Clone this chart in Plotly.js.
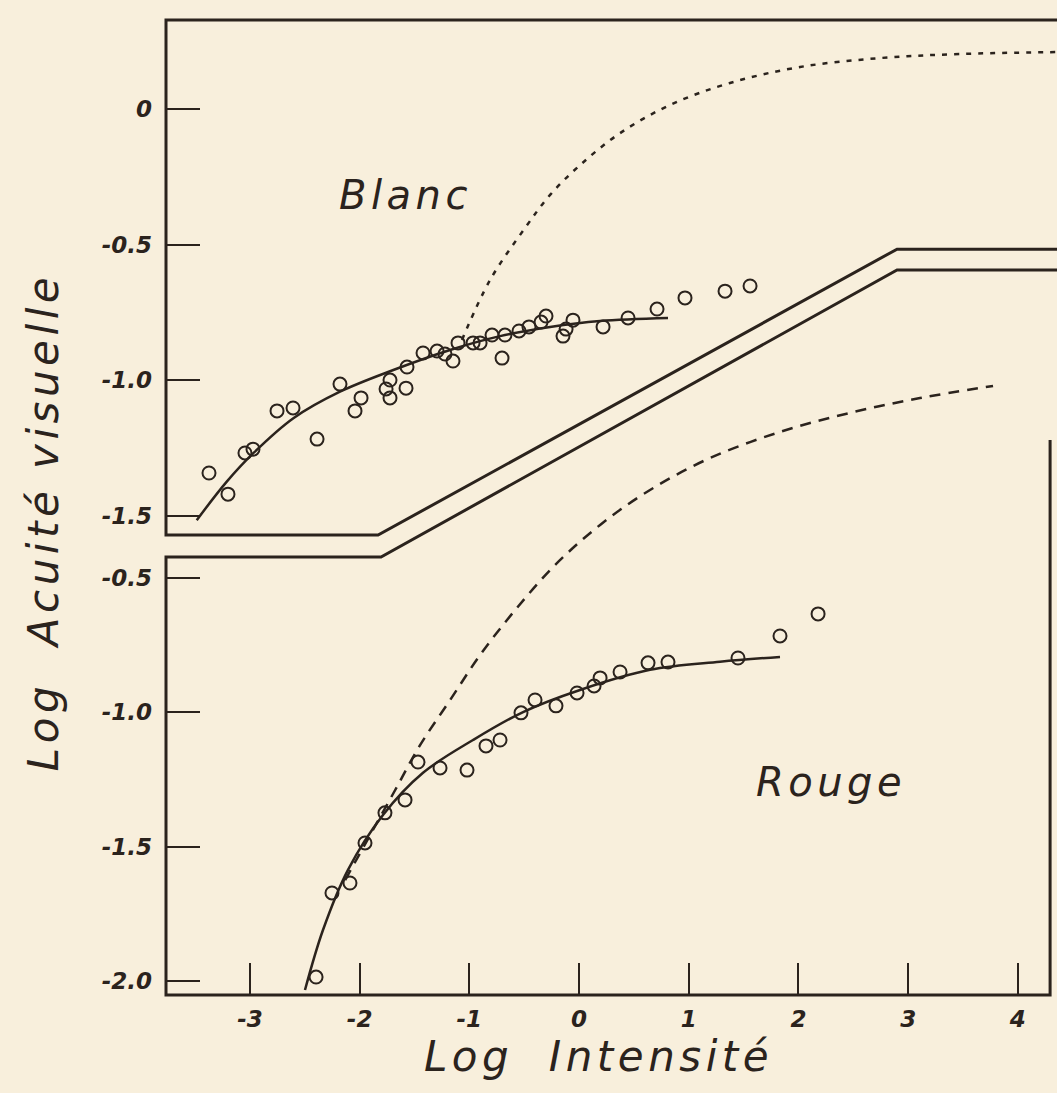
<!DOCTYPE html>
<html>
<head>
<meta charset="utf-8">
<script src="https://cdn.plot.ly/plotly-3.0.1.min.js"></script>
<style>
  html, body { margin: 0; padding: 0; background: #f8efdc; }
  #chart { width: 1057px; height: 1093px; }
  .xtitle, .ytitle, .y2title, .annotation-text { letter-spacing: 4.5px; }
</style>
</head>
<body>
<div id="chart"></div>
<script>
// ---------- Data ----------
// Blanc (white light) – top panel
const blancX = [-3.373, -3.200, -3.045, -2.972, -2.753, -2.607, -2.388, -2.179, -2.042, -1.987,
                -1.759, -1.723, -1.723, -1.577, -1.568, -1.422, -1.294, -1.222, -1.149, -1.103,
                -0.966, -0.902, -0.793, -0.675, -0.702, -0.547, -0.456, -0.346, -0.301, -0.146,
                -0.118, -0.055, 0.219, 0.447, 0.711, 0.966, 1.331, 1.559];
const blancY = [-1.343, -1.421, -1.269, -1.255, -1.114, -1.103, -1.218, -1.015, -1.114, -1.066,
                -1.033, -1.000, -1.066, -1.030, -0.952, -0.900, -0.893, -0.904, -0.930, -0.863,
                -0.863, -0.863, -0.834, -0.834, -0.919, -0.819, -0.804, -0.786, -0.764, -0.838,
                -0.812, -0.779, -0.804, -0.771, -0.738, -0.697, -0.672, -0.653];
const blancFitX = [-3.485, -3.211, -2.969, -2.604, -2.179, -1.693, -1.176, -0.720, -0.264, 0.191, 0.811];
const blancFitY = [-1.517, -1.375, -1.270, -1.141, -1.043, -0.963, -0.889, -0.838, -0.804, -0.782, -0.771];
const blancDotX = [-1.067, -0.811, -0.492, -0.264, 0.009, 0.374, 0.830, 1.376, 2.015, 2.744, 3.473, 4.357];
const blancDotY = [-0.852, -0.631, -0.439, -0.317, -0.207, -0.089, 0.015, 0.096, 0.155, 0.188, 0.203, 0.210];

// Rouge (red light) – bottom panel
const rougeX = [-2.397, -2.252, -2.088, -1.951, -1.769, -1.586, -1.468, -1.267, -1.021, -0.848,
                -0.720, -0.529, -0.401, -0.210, -0.018, 0.137, 0.192, 0.374, 0.629, 0.811,
                1.449, 1.832, 2.179];
const rougeY = [-1.985, -1.672, -1.635, -1.486, -1.374, -1.326, -1.185, -1.207, -1.215, -1.125,
                -1.103, -1.002, -0.954, -0.976, -0.928, -0.902, -0.872, -0.850, -0.816, -0.813,
                -0.798, -0.716, -0.634];
const rougeFitX = [-2.498, -2.334, -2.106, -1.787, -1.422, -0.966, -0.510, 0.009, 0.647, 1.285, 1.832];
const rougeFitY = [-2.033, -1.810, -1.586, -1.382, -1.225, -1.103, -0.999, -0.917, -0.842, -0.812, -0.794];
const rougeDashX = [-2.132, -1.905, -1.677, -1.449, -1.176, -0.902, -0.583, -0.218, 0.192, 0.647, 1.194, 1.832, 2.470, 3.108, 3.774];
const rougeDashY = [-1.624, -1.457, -1.290, -1.122, -0.955, -0.787, -0.620, -0.452, -0.303, -0.173, -0.054, 0.043, 0.114, 0.169, 0.214];

// Axis ticks
const xTickVals = [-3, -2, -1, 0, 1, 2, 3, 4];
const xTickText = ['-3', '-2', '-1', '0', '1', '2', '3', '4'];
const yTopTickVals = [0, -0.5, -1.0, -1.5];
const yTopTickText = ['0', '-0.5', '-1.0', '-1.5'];
const yBotTickVals = [-0.5, -1.0, -1.5, -2.0];
const yBotTickText = ['-0.5', '-1.0', '-1.5', '-2.0'];

// Panel frames (decorative borders and the double separating line)
const topFrameX = [4.357, -3.765, -3.765, -1.832, 2.899, 4.357];
const topFrameY = [0.328, 0.328, -1.572, -1.572, -0.517, -0.517];
const botFrameX = [4.357, 2.899, -1.805, -3.765, -3.765, 4.294, 4.294];
const botFrameY = [0.6455, 0.6455, -0.4223, -0.4223, -2.0517, -2.0517, 0.013];

// ---------- Styling ----------
const ink = '#2b231d';
const paper = '#f8efdc';

const traces = [
  {x: topFrameX, y: topFrameY, xaxis: 'x', yaxis: 'y', mode: 'lines',
   line: {color: ink, width: 3}, hoverinfo: 'skip', showlegend: false},
  {x: botFrameX, y: botFrameY, xaxis: 'x', yaxis: 'y2', mode: 'lines',
   line: {color: ink, width: 3}, hoverinfo: 'skip', showlegend: false},
  {x: blancDotX, y: blancDotY, xaxis: 'x', yaxis: 'y', mode: 'lines', name: 'Blanc (théorique)',
   line: {color: ink, width: 2.5, dash: '5px,7px', shape: 'spline'}, showlegend: false},
  {x: blancFitX, y: blancFitY, xaxis: 'x', yaxis: 'y', mode: 'lines', name: 'Blanc (courbe)',
   line: {color: ink, width: 2.5, shape: 'spline'}, showlegend: false},
  {x: blancX, y: blancY, xaxis: 'x', yaxis: 'y', mode: 'markers', name: 'Blanc',
   marker: {symbol: 'circle-open', size: 13, color: ink, line: {width: 2, color: ink}}, showlegend: false},
  {x: rougeDashX, y: rougeDashY, xaxis: 'x', yaxis: 'y2', mode: 'lines', name: 'Rouge (théorique)',
   line: {color: ink, width: 2.5, dash: '11px,8px', shape: 'spline'}, showlegend: false},
  {x: rougeFitX, y: rougeFitY, xaxis: 'x', yaxis: 'y2', mode: 'lines', name: 'Rouge (courbe)',
   line: {color: ink, width: 2.5, shape: 'spline'}, showlegend: false},
  {x: rougeX, y: rougeY, xaxis: 'x', yaxis: 'y2', mode: 'markers', name: 'Rouge',
   marker: {symbol: 'circle-open', size: 13, color: ink, line: {width: 2, color: ink}}, showlegend: false}
];

const tickFont = {family: 'DejaVu Sans, sans-serif', size: 23, color: ink, weight: 700, style: 'italic'};
const titleFont = {family: 'DejaVu Sans, sans-serif', size: 42, color: ink, style: 'italic'};

const layout = {
  width: 1057, height: 1093,
  margin: {l: 140, r: 0, t: 8, b: 88, pad: 0},
  paper_bgcolor: paper, plot_bgcolor: 'rgba(0,0,0,0)',
  showlegend: false,
  xaxis: {
    range: [-4.002, 4.357], anchor: 'free', position: 0.01003,
    showgrid: false, zeroline: false, showline: false,
    ticks: 'inside', ticklen: 32, tickwidth: 2, tickcolor: ink,
    tickvals: xTickVals, ticktext: xTickText, tickfont: tickFont, ticklabelstandoff: 8,
    title: {text: 'Log\u00a0\u00a0Intensité', font: titleFont, standoff: 2}
  },
  yaxis: {
    domain: [0, 1], range: [-3.306, 0.3727], anchor: 'free', position: 0.02835,
    showgrid: false, zeroline: false, showline: false,
    ticks: 'inside', ticklen: 33, tickwidth: 2, tickcolor: ink,
    tickvals: yTopTickVals, ticktext: yTopTickText, tickfont: tickFont, ticklabelstandoff: 14
  },
  yaxis2: {
    domain: [0, 0.9689], range: [-2.0889, 1.5048], anchor: 'free', position: 0.02835,
    showgrid: false, zeroline: false, showline: false,
    ticks: 'inside', ticklen: 33, tickwidth: 2, tickcolor: ink,
    tickvals: yBotTickVals, ticktext: yBotTickText, tickfont: tickFont, ticklabelstandoff: 14,
    title: {text: 'Log\u00a0\u00a0Acuité visuelle', font: titleFont, standoff: 28}
  },
  annotations: [
    {text: 'Blanc', x: -1.586, y: -0.317, xref: 'x', yref: 'y', showarrow: false,
     font: {family: 'DejaVu Sans, sans-serif', size: 40, color: ink, style: 'italic'}},
    {text: 'Rouge', x: 2.297, y: -1.26, xref: 'x', yref: 'y2', showarrow: false,
     font: {family: 'DejaVu Sans, sans-serif', size: 40, color: ink, style: 'italic'}}
  ]
};

Plotly.newPlot('chart', traces, layout, {staticPlot: true, displayModeBar: false});
</script>
</body>
</html>
